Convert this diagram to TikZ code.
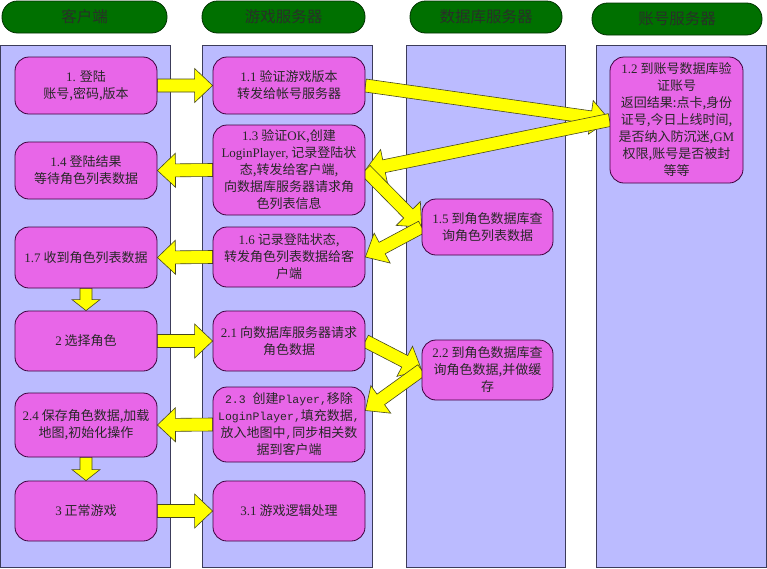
\documentclass[tikz,border=0pt]{standalone}
\usepackage{fontspec}
\setmainfont{Noto Sans CJK SC}
\newfontfamily\latf{Liberation Serif}
\newfontfamily\monf{Liberation Mono}
\usetikzlibrary{calc}
\definecolor{hdrfill}{RGB}{0,112,0}
\definecolor{hdrdraw}{RGB}{0,50,0}
\definecolor{hdrtext}{RGB}{40,48,40}
\definecolor{lanefill}{RGB}{187,187,255}
\definecolor{lanedraw}{RGB}{60,60,90}
\definecolor{boxfill}{RGB}{232,102,232}
\definecolor{boxdraw}{RGB}{60,0,60}
\definecolor{boxtext}{RGB}{40,40,40}
\definecolor{arrfill}{RGB}{255,255,0}
\definecolor{arrdraw}{RGB}{70,70,30}
\newcommand\lt[1]{{\latf #1}}
\newcommand\mt[1]{{\monf\fontsize{11.5}{17}\selectfont #1}}
\newcommand\blockarr[5]{%
  \coordinate (ba) at ($(#2)!#5!(#1)$);
  \draw[arrowshape] ($(#1)!#3!90:(#2)$) -- ($(ba)!#3!90:(#2)$) -- ($(ba)!#4!90:(#2)$) -- (#2) -- ($(ba)!#4!-90:(#2)$) -- ($(ba)!#3!-90:(#2)$) -- ($(#1)!#3!-90:(#2)$) -- cycle;
}
\pgfdeclarelayer{lanes}
\pgfdeclarelayer{arrows}
\pgfsetlayers{lanes,arrows,main}
\begin{document}
\begin{tikzpicture}[x=1pt,y=-1pt,
  hdr/.style={draw=hdrdraw, line width=0.8pt, fill=hdrfill, rounded corners=15.5pt, text=hdrtext, font=\fontsize{15.5}{18}\selectfont, minimum height=32},
  lane/.style={draw=lanedraw, line width=0.8pt, fill=lanefill},
  box/.style={draw=boxdraw, line width=0.8pt, fill=boxfill, rounded corners=14pt, text=boxtext, align=center, font=\fontsize{13}{17}\selectfont, inner sep=2pt},
  lbox/.style={box, minimum width=142},
  mbox/.style={box, minimum width=152},
  dbox/.style={box, minimum width=131},
  arrowshape/.style={draw=arrdraw, line width=0.6pt, fill=arrfill, line join=miter}]
\useasboundingbox (0,0) rectangle (767,568);

% lanes
\begin{pgfonlayer}{lanes}
\path[lane] (0.5,45) rectangle (170,567.5);
\path[lane] (202,45) rectangle (372,567.5);
\path[lane] (406,45) rectangle (565,567.5);
\path[lane] (596,45) rectangle (766.5,567.5);
\end{pgfonlayer}

% headers
\node[hdr, minimum width=165] (h1) at (84.5,17) {\color{hdrtext}客户端};
\node[hdr, minimum width=163] (h2) at (283.5,17) {\color{hdrtext}游戏服务器};
\node[hdr, minimum width=152] (h3) at (486,17) {\color{hdrtext}数据库服务器};
\node[hdr, minimum width=170] (h4) at (677,19) {\color{hdrtext}账号服务器};

% client lane
\node[lbox, minimum height=57] (n1) at (86,85.5) {\lt{1.} 登陆\\账号,密码,版本};
\node[lbox, minimum height=57] (n14) at (86,170.5) {\lt{1.4} 登陆结果\\等待角色列表数据};
\node[lbox, minimum height=61] (n17) at (86,257.5) {\lt{1.7} 收到角色列表数据};
\node[lbox, minimum height=60] (n2) at (86,341) {\lt{2} 选择角色};
\node[lbox, minimum height=64] (n24) at (86,425) {\lt{2.4} 保存角色数据,加载\\地图,初始化操作};
\node[lbox, minimum height=60] (n3) at (86,511) {\lt{3} 正常游戏};

% game server lane
\node[mbox, minimum height=57] (n11) at (289,85.5) {\lt{1.1} 验证游戏版本\\转发给帐号服务器};
\node[mbox, minimum height=90] (n13) at (289,170) {\lt{1.3} 验证\lt{OK},创建\\\lt{LoginPlayer,} 记录登陆状\\态,转发给客户端,\\向数据库服务器请求角\\色列表信息};
\node[mbox, minimum height=60] (n16) at (289,257) {\lt{1.6} 记录登陆状态,\\转发角色列表数据给客\\户端};
\node[mbox, minimum height=60] (n21) at (289,341) {\lt{2.1} 向数据库服务器请求\\角色数据};
\node[mbox, minimum height=75] (n23) at (289,424.5) {\mt{2.3 }创建\mt{Player,}移除\\\mt{LoginPlayer,}填充数据\mt{,}\\放入地图中\mt{,}同步相关数\\据到客户端};
\node[mbox, minimum height=60] (n31) at (289,511) {\lt{3.1} 游戏逻辑处理};

% database lane
\node[dbox, minimum height=56] (n15) at (487.5,227) {\lt{1.5} 到角色数据库查\\询角色列表数据};
\node[dbox, minimum height=60] (n22) at (487.5,370) {\lt{2.2} 到角色数据库查\\询角色数据,并做缓\\存};

% account lane
\node[box, minimum width=133, minimum height=126] (n12) at (676.5,120) {\lt{1.2} 到账号数据库验\\证账号\\返回结果:点卡,身份\\证号,今日上线时间,\\是否纳入防沉迷,\lt{GM}\\权限,账号是否被封\\等等};

% arrows
\coordinate (t23) at ($(n23.east)+(0,-14)$);
\begin{pgfonlayer}{arrows}
\blockarr{n1.east}{n11.west}{6.5pt}{17pt}{18pt}
\blockarr{n11.east}{n12.west}{6.5pt}{17pt}{19pt}
\blockarr{n12.west}{n13.east}{6.5pt}{17pt}{19pt}
\blockarr{n13.west}{n14.east}{6.5pt}{17pt}{18pt}
\blockarr{n13.east}{n15.west}{6.5pt}{17pt}{19pt}
\blockarr{n15.west}{n16.east}{6.5pt}{17pt}{19pt}
\blockarr{n16.west}{n17.east}{6.5pt}{17pt}{18pt}
\blockarr{n17.south}{n2.north}{6pt}{14pt}{11pt}
\blockarr{n2.east}{n21.west}{6.5pt}{17pt}{18pt}
\blockarr{n21.east}{n22.west}{6.5pt}{17pt}{19pt}
\blockarr{n22.west}{t23}{6.5pt}{17pt}{19pt}
\blockarr{n23.west}{n24.east}{6.5pt}{17pt}{18pt}
\blockarr{n24.south}{n3.north}{6pt}{14pt}{11pt}
\blockarr{n3.east}{n31.west}{6.5pt}{17pt}{18pt}
\end{pgfonlayer}
\end{tikzpicture}
\end{document}
